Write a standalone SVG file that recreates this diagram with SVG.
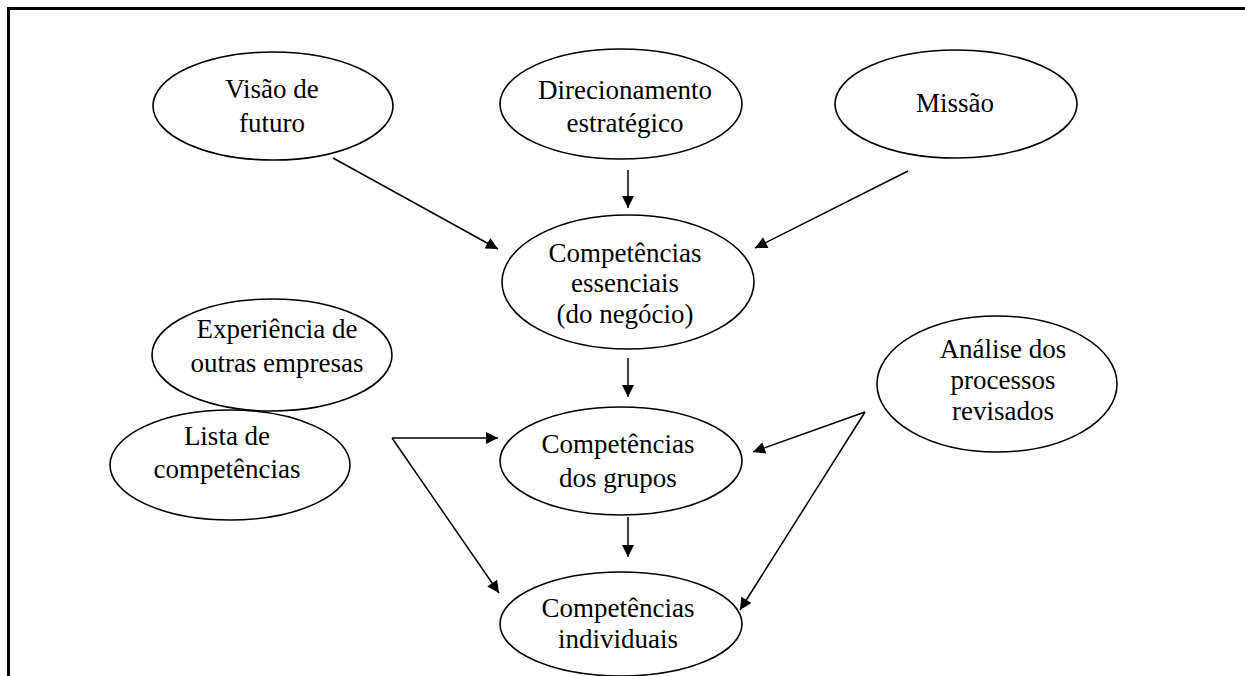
<svg xmlns="http://www.w3.org/2000/svg" width="1245" height="676" viewBox="0 0 1245 676">
  <style>
    .node ellipse { fill: #ffffff; stroke: #000000; stroke-width: 1.6; }
    .node text { font-family: "Liberation Serif", "Times New Roman", serif; font-size: 27px; fill: #000000; text-anchor: middle; }
    .edge { fill: none; stroke: #000000; stroke-width: 1.5; }
    .frame { stroke: #000000; stroke-width: 3; fill: none; }
  </style>
  <defs>
    <marker id="arrow" viewBox="0 0 10 10" refX="10" refY="5" markerWidth="14" markerHeight="12" markerUnits="userSpaceOnUse" orient="auto">
      <path d="M0,0 L10,5 L0,10 z" fill="#000000"/>
    </marker>
  </defs>
  <rect width="1245" height="676" fill="#ffffff"/>
  <g id="frame">
    <line class="frame" x1="7" y1="8.5" x2="1245" y2="8.5"/>
    <line class="frame" x1="8.5" y1="7" x2="8.5" y2="676"/>
  </g>

  <g id="connectors">
    <line class="edge" x1="333" y1="158" x2="498" y2="249" marker-end="url(#arrow)"/>
    <line class="edge" x1="628" y1="170" x2="628" y2="208" marker-end="url(#arrow)"/>
    <line class="edge" x1="908" y1="171" x2="755" y2="248" marker-end="url(#arrow)"/>
    <line class="edge" x1="628" y1="358" x2="628" y2="397" marker-end="url(#arrow)"/>
    <line class="edge" x1="392" y1="438" x2="498" y2="438" marker-end="url(#arrow)"/>
    <line class="edge" x1="392" y1="438" x2="499" y2="593" marker-end="url(#arrow)"/>
    <line class="edge" x1="628" y1="517" x2="628" y2="557" marker-end="url(#arrow)"/>
    <line class="edge" x1="865" y1="412" x2="753" y2="452" marker-end="url(#arrow)"/>
    <line class="edge" x1="865" y1="412" x2="740" y2="610" marker-end="url(#arrow)"/>
  </g>

  <g id="visao" class="node">
    <ellipse cx="273" cy="106" rx="120" ry="54"/>
    <text x="272" y="98">Visão de</text>
    <text x="272" y="132">futuro</text>
  </g>
  <g id="direcionamento" class="node">
    <ellipse cx="621" cy="104" rx="121" ry="55"/>
    <text x="625" y="99">Direcionamento</text>
    <text x="625" y="132">estratégico</text>
  </g>
  <g id="missao" class="node">
    <ellipse cx="956" cy="104" rx="121" ry="54"/>
    <text x="955" y="112">Missão</text>
  </g>
  <g id="essenciais" class="node">
    <ellipse cx="628" cy="282" rx="126" ry="67"/>
    <text x="625" y="262">Competências</text>
    <text x="625" y="292">essenciais</text>
    <text x="625" y="323">(do negócio)</text>
  </g>
  <g id="experiencia" class="node">
    <ellipse cx="272" cy="355" rx="120" ry="56"/>
    <text x="277" y="338">Experiência de</text>
    <text x="277" y="372">outras empresas</text>
  </g>
  <g id="lista" class="node">
    <ellipse cx="230" cy="465" rx="120" ry="55"/>
    <text x="227" y="445">Lista de</text>
    <text x="227" y="478">competências</text>
  </g>
  <g id="grupos" class="node">
    <ellipse cx="621" cy="461" rx="121" ry="54"/>
    <text x="618" y="453">Competências</text>
    <text x="618" y="487">dos grupos</text>
  </g>
  <g id="individuais" class="node">
    <ellipse cx="621" cy="624" rx="121" ry="52"/>
    <text x="618" y="617">Competências</text>
    <text x="618" y="648">individuais</text>
  </g>
  <g id="analise" class="node">
    <ellipse cx="997" cy="384" rx="120" ry="68"/>
    <text x="1003" y="358">Análise dos</text>
    <text x="1003" y="389">processos</text>
    <text x="1003" y="420">revisados</text>
  </g>
</svg>
